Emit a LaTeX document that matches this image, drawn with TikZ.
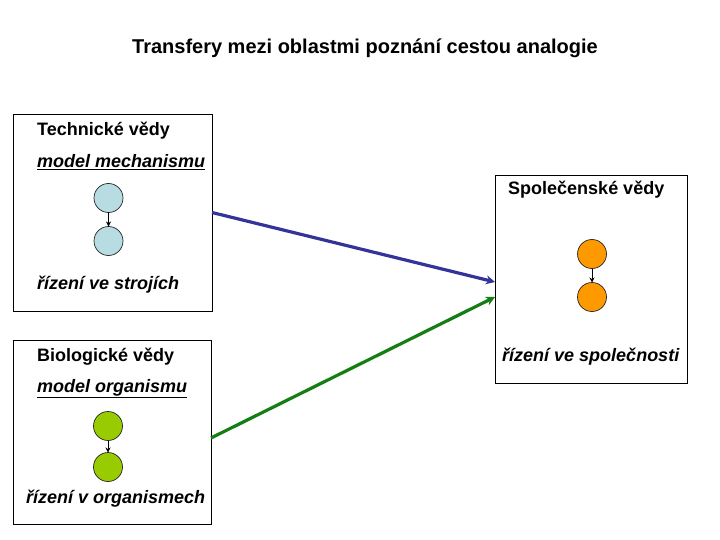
\documentclass[tikz,border=0pt]{standalone}
\usepackage{fontspec}
\setmainfont{Liberation Sans}
\definecolor{navyline}{RGB}{51,51,153}
\definecolor{greenline}{RGB}{20,125,20}
\definecolor{tealfill}{RGB}{183,221,226}
\definecolor{limefill}{RGB}{153,204,0}
\definecolor{orangefill}{RGB}{255,153,0}
\usetikzlibrary{arrows.meta, positioning}

\begin{document}
\begin{tikzpicture}[
    x=1pt, y=-1pt,
    field/.style={rectangle, draw=black, line width=0.9pt, inner sep=0pt, outer sep=0pt},
    heading/.style={anchor=base west, inner sep=0pt, font=\fontsize{18}{21}\selectfont\bfseries},
    caption/.style={anchor=base west, inner sep=0pt, font=\fontsize{18}{21}\selectfont\bfseries\itshape},
    dot/.style={circle, draw=black!85, line width=0.7pt, minimum size=29pt, inner sep=0pt, outer sep=0pt},
    link/.style={-{Stealth[length=5pt, width=5pt]}, black, line width=1pt},
    transfer/.style={-{Stealth[length=9pt, width=9pt]}, line width=3.2pt}
]
\useasboundingbox (0,0) rectangle (720,540);
\node[anchor=base, inner sep=0pt, font=\fontsize{20}{24}\selectfont\bfseries] (title) at (365,54) {Transfery mezi oblastmi poznání cestou analogie};

% technicke vedy
\node[field, minimum width=199pt, minimum height=197pt] (tech) at (112.5,212.5) {};
\node[heading] (techname) at (37,136) {Technické vědy};
\node[caption] (techmodel) at (37,168) {\underline{model mechanismu}};
\node[dot, fill=tealfill] (techA) at (108.5,198) {};
\node[dot, fill=tealfill, below=14pt of techA] (techB) {};
\node[caption] (techrule) at (37,289) {řízení ve strojích};
\draw[link] (techA) -- (techB);

% biologicke vedy
\node[field, minimum width=198pt, minimum height=184pt] (bio) at (112,432) {};
\node[heading] (bioname) at (37,361) {Biologické vědy};
\node[caption] (biomodel) at (37,392) {\underline{model organismu}};
\node[dot, fill=limefill] (bioA) at (108,426) {};
\node[dot, fill=limefill, below=12pt of bioA] (bioB) {};
\node[caption] (biorule) at (26,503) {řízení v organismech};
\draw[link] (bioA) -- (bioB);

% spolecenske vedy
\node[field, minimum width=192pt, minimum height=208pt] (soc) at (591,279) {};
\node[heading] (socname) at (508,195) {Společenské vědy};
\node[dot, fill=orangefill] (socA) at (592,254) {};
\node[dot, fill=orangefill, below=14pt of socA] (socB) {};
\node[caption] (socrule) at (502,361) {řízení ve společnosti};
\draw[link] (socA) -- (socB);

\draw[transfer, navyline] (tech.east) -- ([yshift=-3pt]soc.west);
\draw[transfer, greenline] ([yshift=-6pt]bio.east) -- ([yshift=-18pt]soc.west);
\end{tikzpicture}
\end{document}
